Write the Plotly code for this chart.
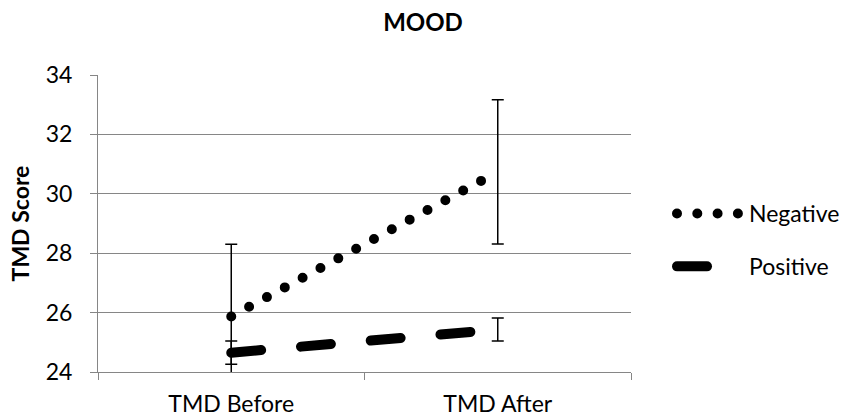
import plotly.graph_objects as go

# Mean TMD scores with standard-error bars for each group
categories = ["TMD Before", "TMD After"]
negative = [25.87, 30.74]
negative_err = [2.43, 2.43]
positive = [24.65, 25.43]
positive_err = [0.39, 0.39]
y_ticks = [24, 26, 28, 30, 32, 34]

FONT = "Lato"
GRID = "#868686"
TXT = 23

fig = go.Figure()
fig.add_trace(go.Scatter(
    x=categories, y=negative, name="Negative", mode="lines", legendgroup="neg",
    line=dict(color="black", width=10, dash="0px,20.3px"),
    error_y=dict(type="data", array=negative_err, color="black", thickness=1.5, width=6),
))
fig.add_trace(go.Scatter(
    x=categories, y=positive, name="Positive", mode="lines", legendgroup="pos",
    line=dict(color="black", width=10, dash="30px,40px"),
    error_y=dict(type="data", array=positive_err, color="black", thickness=1.5, width=6),
))

fig.update_layout(
    width=846, height=419,
    margin=dict(l=98, r=215, t=75, b=47, autoexpand=False),
    paper_bgcolor="white", plot_bgcolor="white",
    font=dict(family=FONT, size=TXT, color="black"),
    title=dict(text="<b>MOOD</b>", x=0.5, xref="container", xanchor="center",
               y=1 - 22.5 / 419, yref="container", yanchor="middle",
               font=dict(family=FONT, size=TXT + 1, color="black")),
    showlegend=True,
    legend=dict(x=672 / 846, xref="container", xanchor="left",
                y=1 - 192 / 419, yref="container", yanchor="top",
                font=dict(family=FONT, size=TXT, color="black"),
                tracegroupgap=20, itemwidth=67, bgcolor="rgba(0,0,0,0)"),
    xaxis=dict(type="category", range=[-0.5, 1.5], tickson="boundaries",
               automargin=False,
               ticks="outside", ticklen=7, tickcolor=GRID, tickwidth=1,
               ticklabelstandoff=11,
               showline=True, linecolor=GRID, linewidth=1, showgrid=False,
               tickfont=dict(family=FONT, size=TXT, color="black")),
    yaxis=dict(range=[24, 34], tickvals=y_ticks, showgrid=True, gridcolor=GRID,
               automargin=False,
               gridwidth=1, showline=True, linecolor=GRID, linewidth=1,
               ticks="outside", ticklen=7, tickcolor=GRID, zeroline=False,
               ticklabelstandoff=13,
               tickfont=dict(family=FONT, size=TXT, color="black"),
               title=dict(text="<b>TMD Score</b>", standoff=9,
                          font=dict(family=FONT, size=TXT, color="black"))),
)

# Round line caps turn the zero-length dashes into dots and round the long dashes
post = """
var gd = document.getElementById('{plot_id}');
function roundCaps(){
  gd.querySelectorAll('path.js-line').forEach(function(p){ p.style.strokeLinecap = 'round'; });
}
roundCaps();
gd.on('plotly_afterplot', roundCaps);
"""

fig.write_html("out.html", post_script=post)
